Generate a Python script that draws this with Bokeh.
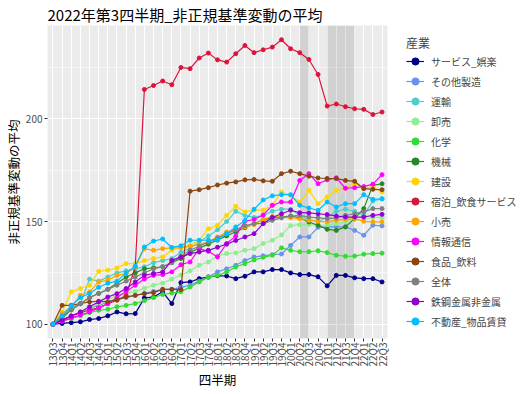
import math
from bokeh.plotting import figure
from bokeh.models import (Range1d, FixedTicker, Legend, LegendItem, BoxAnnotation,
                          SingleIntervalTicker, ColumnDataSource)
from bokeh.embed import file_html
from bokeh.resources import INLINE

quarters = ["13Q3", "13Q4", "14Q1", "14Q2", "14Q3", "14Q4", "15Q1", "15Q2", "15Q3", "15Q4",
            "16Q1", "16Q2", "16Q3", "16Q4", "17Q1", "17Q2", "17Q3", "17Q4", "18Q1", "18Q2",
            "18Q3", "18Q4", "19Q1", "19Q2", "19Q3", "19Q4", "20Q1", "20Q2", "20Q3", "20Q4",
            "21Q1", "21Q2", "21Q3", "21Q4", "22Q1", "22Q2", "22Q3"]

service = [100.0, 100.4, 100.8, 101.2, 102.3, 102.8, 104.1, 106.0, 105.1, 105.2, 112.8, 113.3, 115.8,
           110.1, 120.3, 120.6, 122.2, 123.0, 123.6, 123.5, 122.2, 123.4, 125.5, 125.5, 126.6, 126.6,
           125.0, 124.2, 124.2, 123.1, 118.7, 123.8, 123.8, 122.6, 122.2, 122.2, 120.6]
other_mfg = [100, 102, 104, 106, 108, 109, 111, 112, 113, 114, 115, 116, 117, 117, 118, 119, 121, 123,
             125.5, 127, 128.7, 131, 132.8, 133.3, 133.9, 134.2, 138.4, 142.5, 142.5, 147.2, 147.4,
             147.4, 147.4, 145.7, 143.3, 148.2, 147.9]
transport = [100, 104, 108, 110, 122, 121, 123, 125, 126, 127, 128, 130, 131, 132, 135, 137, 140, 143,
             146, 150, 155, 153, 152, 153, 155, 156, 156, 153, 151, 150, 152, 155, 156, 155, 153, 160, 161]
wholesale = [100, 102, 104, 106, 108, 110, 112, 114, 115, 116, 117.5, 119, 120, 122, 124, 126, 128.7,
             130.3, 133.3, 134.4, 134.7, 136, 136.8, 139.3, 140.9, 143.5, 148, 148.5, 148.5, 148.3,
             148.2, 149, 150, 151, 151, 152, 152]
chemical = [100, 101.5, 102.8, 104.1, 105.7, 106.8, 107.3, 108.5, 109.2, 110.1, 111.5, 113, 114.5,
            115.2, 115.8, 118.2, 120.6, 122.8, 123.8, 125.5, 127.9, 129.5, 131.3, 132.6, 133.6, 137.2,
            136, 135.3, 135.3, 135.8, 134.9, 133.6, 133.1, 133.2, 134.1, 134.4, 134.6]
machinery = [100, 103, 107, 110, 113, 115, 117, 120, 123, 125, 127, 127.5, 128, 130, 132, 135, 137,
             139, 141, 143, 145, 147, 149, 150.9, 151.8, 152.2, 152.7, 151.8, 149.8, 148.2, 146.2,
             145.7, 147.4, 151.4, 156.3, 167.6, 168.4]
construction = [100, 106, 115.8, 117.4, 119, 125.8, 126.3, 127.4, 129.5, 129.5, 131, 132, 132.8, 136,
                137.6, 138.4, 140.9, 146.5, 148.2, 153, 157.4, 154.7, 155.6, 155.6, 157.9, 164.4, 162.7,
                159.5, 165.2, 158.7, 162, 165.2, 166.3, 168.4, 166.3, 166.8, 164.4]
accommodation = [100, 102, 104, 105.5, 107, 108, 110, 111.7, 114, 128, 214.3, 216.2, 218.4, 216.6,
                 225.0, 224.4, 229.6, 232.0, 228.7, 227.6, 231.7, 235.7, 232.2, 233.6, 234.9, 238.5,
                 234.1, 232.2, 228.9, 221.6, 206.2, 207.2, 205.9, 204.9, 204.6, 202.1, 203.3]
retail = [100, 105.2, 108.5, 114.1, 115.8, 120.6, 121.4, 123.8, 124.7, 127.9, 136.8, 136, 136.8, 137.2,
          137.2, 138, 138.8, 140.1, 142.5, 144.9, 146.2, 147.4, 148.5, 151, 152.5, 152.2, 151.8, 151.4,
          150.6, 150.1, 149.8, 150.6, 151.1, 151.4, 150.1, 149.8, 149.8]
ict = [100, 101.5, 103, 104.5, 106, 108, 110, 113, 116, 119, 122, 123.8, 124.2, 125.5, 129, 130.3,
       136.8, 135.5, 132.8, 139.3, 142.9, 150.2, 151, 153.2, 157.9, 159.5, 159.5, 170, 173.3, 168.4,
       170.3, 171.3, 166.2, 166.5, 167, 168.2, 172.8]
food = [100, 109.2, 109.2, 110.1, 110.9, 111.2, 110.9, 112.0, 113.3, 114.1, 114.9, 115.4, 117.0, 117.0,
        116.9, 164.8, 165.5, 166.5, 167.8, 168.7, 169.3, 170.3, 170.5, 169.8, 169.6, 173.3, 174.5, 173.3,
        172.1, 171.2, 171.0, 170.9, 170.0, 169.6, 166.0, 165.7, 165.5]
total = [100, 104, 107, 110, 113, 115, 117, 119, 121, 123, 125, 127, 128, 130, 133, 136, 138, 140, 142,
         144, 146, 148, 149, 149, 150.6, 151.8, 152.7, 153, 152.2, 151.8, 151.4, 151.8, 153, 153.8,
         154.7, 156.3, 156.3]
steel = [100, 102, 104, 106, 108.5, 110.9, 113.3, 114.9, 117.4, 120.6, 123.8, 124.7, 125.5, 131.1,
         132.8, 134.4, 135.2, 136, 137.5, 139, 140.8, 142.5, 144.1, 149, 152, 153.8, 155.5, 154.3,
         154.2, 153.8, 153.4, 152.7, 152.2, 152.2, 152.2, 153, 153.5]
realestate = [100, 104, 109, 113, 115, 118, 120, 121, 125, 128.2, 137.6, 140.5, 141.5, 137.4, 138.2,
              140.9, 140.9, 140.9, 141, 144.1, 147.4, 150.5, 156, 160.5, 162.5, 163.1, 163.1, 157.9,
              156.6, 155.5, 159.5, 157.1, 158.7, 158.7, 163.1, 160.8, 161.1]

industries = ["サービス_娯楽", "その他製造", "運輸", "卸売", "化学", "機械", "建設",
              "宿泊_飲食サービス", "小売", "情報通信", "食品_飲料", "全体", "鉄鋼金属非金属",
              "不動産_物品賃貸"]
series_values = [service, other_mfg, transport, wholesale, chemical, machinery, construction,
                 accommodation, retail, ict, food, total, steel, realestate]
colors = ["#00008B", "#6495ED", "#48D1CC", "#90EE90", "#32DD32", "#228B22", "#FFD700",
          "#DC143C", "#FFA500", "#FF00FF", "#8B4513", "#808080", "#9400D3", "#00BFFF"]

# shaded periods (start quarter, end quarter)
periods = [("20Q2", "20Q3"), ("21Q1", "21Q4")]

FONT = "Noto Sans CJK JP"

xs = list(range(len(quarters)))
all_vals = [v for s in series_values for v in s]
ymin, ymax = min(all_vals), max(all_vals)
pad = (ymax - ymin) * 0.05

p = figure(frame_width=340, frame_height=313, output_backend="svg", toolbar_location=None,
           x_range=Range1d(-0.6, len(quarters) - 1 + 0.6),
           y_range=Range1d(ymin - pad, ymax + pad),
           min_border_left=36, min_border_top=0, min_border_right=4, min_border_bottom=0)

p.title.text = "2022年第3四半期_非正規基準変動の平均"
p.title.text_font = FONT
p.title.text_font_size = "15px"
p.title.text_font_style = "normal"
p.title.text_color = "black"
p.title.standoff = 2
p.title.offset = 0

p.background_fill_color = "#EBEBEB"
p.border_fill_color = "white"
p.outline_line_color = None

p.xaxis.ticker = FixedTicker(ticks=xs)
p.xaxis.major_label_overrides = {i: q for i, q in zip(xs, quarters)}
p.xaxis.major_label_orientation = math.pi / 2
p.xaxis.axis_label = "四半期"
p.yaxis.axis_label = "非正規基準変動の平均"
p.yaxis.ticker = SingleIntervalTicker(interval=50, num_minor_ticks=2)
for ax in (p.xaxis, p.yaxis):
    ax.axis_line_color = None
    ax.major_tick_line_color = "#333333"
    ax.major_tick_in = 0
    ax.major_tick_out = 3
    ax.minor_tick_line_color = None
    ax.major_label_text_font = FONT
    ax.major_label_text_font_size = "10px"
    ax.major_label_text_color = "#4D4D4D"
    ax.major_label_standoff = 1
    ax.axis_label_text_font = FONT
    ax.axis_label_text_font_size = "12.5px"
    ax.axis_label_text_font_style = "normal"
    ax.axis_label_text_color = "black"
    ax.axis_label_standoff = 0

p.xgrid.grid_line_color = "white"
p.xgrid.grid_line_width = 1.1
p.ygrid.grid_line_color = "white"
p.ygrid.grid_line_width = 1.1
p.ygrid.minor_grid_line_color = "white"
p.ygrid.minor_grid_line_width = 0.5

for a, b in periods:
    p.add_layout(BoxAnnotation(left=quarters.index(a), right=quarters.index(b),
                               fill_color="black", fill_alpha=0.11, line_color=None, level="underlay"))

items = []
for name, vals, col in zip(industries, series_values, colors):
    src = ColumnDataSource(dict(x=xs, y=vals))
    lr = p.line("x", "y", source=src, line_color=col, line_width=1.2)
    sr = p.scatter("x", "y", source=src, size=4, fill_color=col, line_color=col)
    items.append(LegendItem(label=name, renderers=[lr, sr]))

legend = Legend(items=items, location=(19, 8), title="産業",
                title_text_font=FONT, title_text_font_size="12px", title_text_font_style="normal",
                title_standoff=1, label_text_font=FONT, label_text_font_size="10px",
                glyph_width=18, glyph_height=18, spacing=2, padding=4, margin=9,
                label_standoff=7, border_line_color=None, background_fill_alpha=0)
p.add_layout(legend, "right")

open("out.html", "w").write(file_html(p, INLINE))
